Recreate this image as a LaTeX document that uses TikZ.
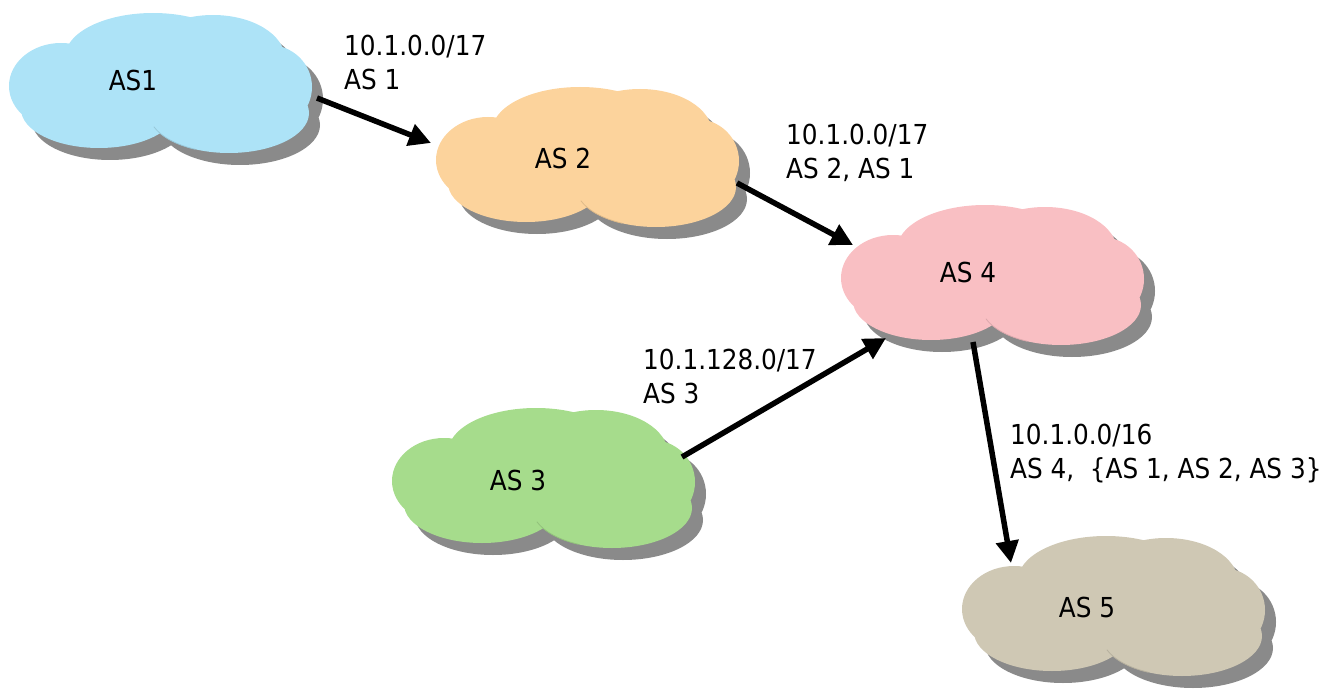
\documentclass[tikz,border=0pt]{standalone}
\usepackage{fontspec}
\setmainfont{DejaVu Sans Condensed}
\usetikzlibrary{arrows.meta}

\definecolor{skyfill}{RGB}{173,227,247}
\definecolor{peachfill}{RGB}{252,211,156}
\definecolor{pinkfill}{RGB}{249,191,195}
\definecolor{greenfill}{RGB}{166,220,140}
\definecolor{stonefill}{RGB}{207,200,180}
\definecolor{cloudshade}{RGB}{138,138,138}

% puffs of one cloud, relative to its centre (about 302 x 140)
\newcommand\puffs{%
  (-100,3)  ellipse [x radius=52pt, y radius=43pt]
  (-8,-26)  ellipse [x radius=88pt, y radius=44pt]
  (52,-24)  ellipse [x radius=72pt, y radius=44pt]
  (108,4)   ellipse [x radius=43pt, y radius=42pt]
  (68,30)   ellipse [x radius=80pt, y radius=40pt]
  (-62,26)  ellipse [x radius=78pt, y radius=39pt]
  (0,0)     ellipse [x radius=125pt, y radius=50pt]
}
% faint seam where the lower right puff overlaps its neighbour
\newcommand\seam{%
  (68,30) ++(200:80pt and 40pt) arc [start angle=200, end angle=245,
    x radius=80pt, y radius=40pt]
}

\tikzset{
  pics/ascloud/.style={code={
    \fill[cloudshade, shift={(11,12)}] \puffs;
    \fill[#1] \puffs;
    \draw[#1!88!black, line width=0.8pt] \seam;
  }},
  aslabel/.style={inner sep=0pt, font=\fontsize{27.5}{34}\selectfont},
  routelabel/.style={inner sep=0pt, anchor=north west, align=left,
    font=\fontsize{27.5}{34}\selectfont},
  flow/.style={line width=5.5pt, -{Triangle[length=22pt,width=22pt]}},
}

\begin{document}
\begin{tikzpicture}[x=1pt,y=-1pt]
\useasboundingbox (0,0) rectangle (1328,690);

% clouds
\pic at (161,83)  {ascloud=skyfill};
\pic at (588,157) {ascloud=peachfill};
\pic at (993,275) {ascloud=pinkfill};
\pic at (544,478) {ascloud=greenfill};
\pic at (1114,606) {ascloud=stonefill};

\node[aslabel] (as1) at (133,80)  {AS1};
\node[aslabel] (as2) at (563,158) {AS 2};
\node[aslabel] (as4) at (968,272) {AS 4};
\node[aslabel] (as3) at (518,480) {AS 3};
\node[aslabel] (as5) at (1087,607) {AS 5};

% arrow end points on the cloud rims
\coordinate (as1out) at (317,98);
\coordinate (as2in)  at (431,143);
\coordinate (as2out) at (737,183);
\coordinate (as4inA) at (853,245);
\coordinate (as3out) at (682,457);
\coordinate (as4inB) at (886,338);
\coordinate (as4out) at (973,342);
\coordinate (as5in)  at (1011,563);

\draw[flow] (as1out) -- (as2in);
\draw[flow] (as2out) -- (as4inA);
\draw[flow] (as3out) -- (as4inB);
\draw[flow] (as4out) -- (as5in);

% announced routes
\node[routelabel] (r1) at (344,35)  {10.1.0.0/17\\AS 1};
\node[routelabel] (r2) at (786,124) {10.1.0.0/17\\AS 2, AS 1};
\node[routelabel] (r3) at (643,349) {10.1.128.0/17\\AS 3};
\node[routelabel] (r4) at (1010,424) {10.1.0.0/16\\AS 4,\ \ \{AS 1, AS 2, AS 3\}};
\end{tikzpicture}
\end{document}
